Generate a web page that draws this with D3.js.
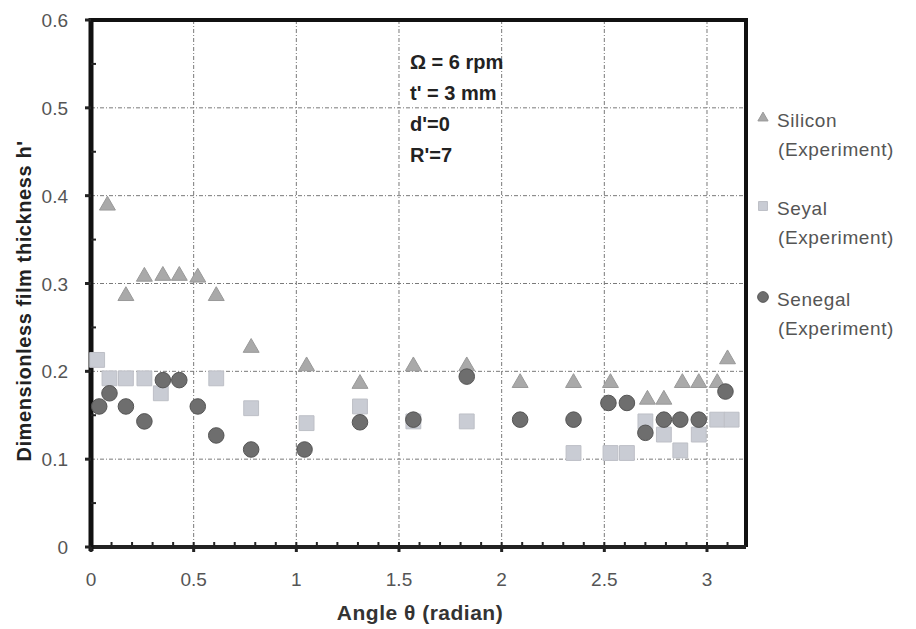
<!DOCTYPE html>
<html lang="en">
<head>
    <meta charset="UTF-8">
    <title>Film thickness</title>
    <script src="https://d3js.org/d3.v7.min.js"></script>
    <style>
        body { margin: 0; background: #fff; }
        text { font-family: 'Liberation Sans', sans-serif; }
    </style>
</head>
<body>
<script>
    const width  = 916;
    const height = 629;

    // data
    const siliconX = [0.08,0.17,0.26,0.35,0.43,0.52,0.61,0.78,1.05,1.31,1.57,1.83,2.09,2.35,2.53,2.71,2.79,2.88,2.96,3.05,3.10];
    const siliconY = [0.390,0.287,0.309,0.310,0.310,0.308,0.287,0.228,0.207,0.187,0.207,0.207,0.188,0.188,0.188,0.169,0.169,0.188,0.188,0.188,0.215];

    const seyalX = [0.03,0.09,0.17,0.26,0.34,0.61,0.78,1.05,1.31,1.57,1.83,2.35,2.53,2.61,2.70,2.79,2.87,2.96,3.05,3.12];
    const seyalY = [0.213,0.192,0.192,0.192,0.175,0.192,0.158,0.141,0.160,0.143,0.143,0.107,0.107,0.107,0.143,0.128,0.110,0.128,0.145,0.145];

    const senegalX = [0.04,0.09,0.17,0.26,0.35,0.43,0.52,0.61,0.78,1.04,1.31,1.57,1.83,2.09,2.35,2.52,2.61,2.70,2.79,2.87,2.96,3.09];
    const senegalY = [0.160,0.175,0.160,0.143,0.190,0.190,0.160,0.127,0.111,0.111,0.142,0.145,0.194,0.145,0.145,0.164,0.164,0.130,0.145,0.145,0.145,0.177];

    const xTicks = [0, 0.5, 1, 1.5, 2, 2.5, 3];
    const yTicks = [0, 0.1, 0.2, 0.3, 0.4, 0.5, 0.6];
    const notes = ["\u03A9 = 6 rpm", "t' = 3 mm", "d'=0", "R'=7"];
    const legendNames = ["Silicon", "Seyal", "Senegal"];

    const x = d3.scaleLinear().domain([0, 3.19]).range([91, 746]);
    const y = d3.scaleLinear().domain([0, 0.6]).range([547, 20]);

    const svg = d3.select("body").append("svg").attr("width", width).attr("height", height);

    const grid = "#7a7a7a";
    // gridlines
    svg.append("g").selectAll("line").data(xTicks.filter(d => d > 0)).enter().append("line")
        .attr("x1", d => x(d)).attr("x2", d => x(d))
        .attr("y1", y(0.6)).attr("y2", y(0))
        .attr("stroke", grid).attr("stroke-width", 1).attr("stroke-dasharray", "4,2,1,2");
    svg.append("g").selectAll("line").data(yTicks.filter(d => d > 0 && d < 0.6)).enter().append("line")
        .attr("x1", x(0)).attr("x2", x(3.19))
        .attr("y1", d => y(d)).attr("y2", d => y(d))
        .attr("stroke", grid).attr("stroke-width", 1).attr("stroke-dasharray", "4,2,1,2");

    // frame
    svg.append("line").attr("x1", x(0)).attr("x2", x(3.19)).attr("y1", y(0.6)).attr("y2", y(0.6))
        .attr("stroke", "#111").attr("stroke-width", 4);
    svg.append("line").attr("x1", x(3.19)).attr("x2", x(3.19)).attr("y1", y(0.6) - 2).attr("y2", y(0))
        .attr("stroke", "#111").attr("stroke-width", 4);
    svg.append("line").attr("x1", x(0)).attr("x2", x(3.19)).attr("y1", y(0)).attr("y2", y(0))
        .attr("stroke", "#222").attr("stroke-width", 4);
    svg.append("line").attr("x1", x(0)).attr("x2", x(0)).attr("y1", y(0.6) - 2).attr("y2", y(0) + 4)
        .attr("stroke", "#111").attr("stroke-width", 5);

    // minor and major ticks
    const xMinor = d3.range(1, 32).map(i => i / 10);
    svg.append("g").selectAll("line").data(xMinor).enter().append("line")
        .attr("x1", d => x(d)).attr("x2", d => x(d))
        .attr("y1", y(0) - 5).attr("y2", y(0))
        .attr("stroke", "#222").attr("stroke-width", 2);
    svg.append("g").selectAll("line").data(xTicks).enter().append("line")
        .attr("x1", d => x(d)).attr("x2", d => x(d))
        .attr("y1", y(0)).attr("y2", y(0) + 5)
        .attr("stroke", "#222").attr("stroke-width", 3);
    const yMinor = [0.05, 0.15, 0.25, 0.35, 0.45, 0.55];
    svg.append("g").selectAll("line").data(yMinor).enter().append("line")
        .attr("x1", x(0)).attr("x2", x(0) + 5)
        .attr("y1", d => y(d)).attr("y2", d => y(d))
        .attr("stroke", "#222").attr("stroke-width", 2);
    svg.append("g").selectAll("line").data(yTicks).enter().append("line")
        .attr("x1", x(0) - 6).attr("x2", x(0))
        .attr("y1", d => y(d)).attr("y2", d => y(d))
        .attr("stroke", "#222").attr("stroke-width", 3);

    // tick labels
    svg.append("g").selectAll("text").data(yTicks).enter().append("text")
        .attr("x", 68).attr("y", d => y(d) + 7)
        .attr("text-anchor", "end").attr("font-size", 19).attr("fill", "#555")
        .text(d => d === 0 ? "0" : d3.format(".1f")(d));
    svg.append("g").selectAll("text").data(xTicks).enter().append("text")
        .attr("x", d => x(d)).attr("y", 586)
        .attr("text-anchor", "middle").attr("font-size", 19).attr("fill", "#555")
        .text(d => d);

    // axis titles
    svg.append("text").attr("x", 420).attr("y", 620).attr("text-anchor", "middle")
        .attr("font-size", 21).attr("font-weight", "bold").attr("fill", "#333")
        .attr("letter-spacing", 0.5)
        .text("Angle  \u03B8 (radian)");
    svg.append("text").attr("transform", "translate(31,301) rotate(-90)").attr("text-anchor", "middle")
        .attr("font-size", 20).attr("font-weight", "bold").attr("fill", "#222")
        .attr("letter-spacing", 0.6)
        .text("Dimensionless film thickness h'");

    // notes
    svg.append("g").selectAll("text").data(notes).enter().append("text")
        .attr("x", 410).attr("y", (d, i) => 69 + i * 31)
        .attr("font-size", 20).attr("font-weight", "bold").attr("fill", "#222")
        .text(d => d);

    // markers
    const tri = d3.symbol().type(d3.symbolTriangle).size(110);
    const sq = d3.symbol().type(d3.symbolSquare).size(220);
    const circ = d3.symbol().type(d3.symbolCircle).size(190);
    const styles = [
        {sym: tri, fill: "#a9a9a9", stroke: "#999"},
        {sym: sq, fill: "#c9ccd4", stroke: "#bdbfc6"},
        {sym: circ, fill: "#6e6e6e", stroke: "#555"}
    ];
    const series = [
        siliconX.map((v, i) => [v, siliconY[i]]),
        seyalX.map((v, i) => [v, seyalY[i]]),
        senegalX.map((v, i) => [v, senegalY[i]])
    ];
    series.forEach((pts, k) => {
        svg.append("g").selectAll("path").data(pts).enter().append("path")
            .attr("d", styles[k].sym)
            .attr("fill", styles[k].fill).attr("stroke", styles[k].stroke).attr("stroke-width", 1)
            .attr("transform", d => "translate(" + [x(d[0]), y(d[1]) + (k === 0 ? 1 : 0)] + ")");
    });

    // legend
    const legY = [118, 206, 297];
    const legSym = [
        d3.symbol().type(d3.symbolTriangle).size(45),
        d3.symbol().type(d3.symbolSquare).size(80),
        d3.symbol().type(d3.symbolCircle).size(90)
    ];
    legendNames.forEach((name, i) => {
        svg.append("path").attr("d", legSym[i])
            .attr("fill", styles[i].fill).attr("stroke", styles[i].stroke)
            .attr("transform", "translate(" + [763, legY[i]] + ")");
        svg.append("text").attr("x", 777).attr("y", legY[i] + 9)
            .attr("font-size", 19).attr("fill", "#555").attr("letter-spacing", 0.6).text(name);
        svg.append("text").attr("x", 778).attr("y", legY[i] + 38)
            .attr("font-size", 19).attr("fill", "#555").attr("letter-spacing", 0.6).text("(Experiment)");
    });
</script>
</body>
</html>
